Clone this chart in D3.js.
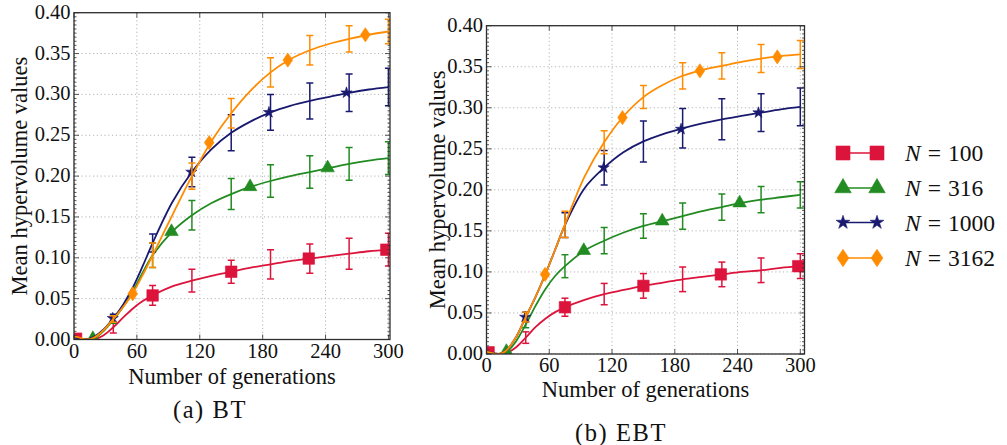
<!DOCTYPE html>
<html>
<head>
<meta charset="utf-8">
<script src="https://cdn.jsdelivr.net/npm/d3@7"></script>
<style>
  body { margin: 0; background: #fff; }
  svg { display: block; }
  svg text { font-family: "Liberation Serif", "DejaVu Serif", "Times New Roman", serif; fill: #111; }
</style>
</head>
<body>
<svg id="chart" width="1007" height="445"></svg>
<script>
// Generation counts at which the mean hypervolume curves are sampled
const gens = [0, 6, 12, 18.75, 28, 37.5, 47, 56.25, 65.6, 75, 93.75, 112.5, 131.25, 150, 168.75, 187.5, 206.25, 225, 243.75, 262.5, 281.25, 300];
// Generations carrying an error bar
const errGens = [37.5, 75, 112.5, 150, 187.5, 225, 262.5, 300];

const populationLabels = ["100", "316", "1000", "3162"];
const yTicks = [0, 0.05, 0.10, 0.15, 0.20, 0.25, 0.30, 0.35, 0.40];
const xTicks = [0, 60, 120, 180, 240, 300];

// ---- BT ----
const btN100  = [0.002, 0.001, 0.000, 0.000, 0.005, 0.015, 0.027, 0.038, 0.047, 0.054, 0.065, 0.072, 0.078, 0.083, 0.088, 0.092, 0.096, 0.099, 0.102, 0.105, 0.108, 0.110];
const btN316  = [0.003, 0.001, 0.000, 0.001, 0.010, 0.024, 0.040, 0.059, 0.082, 0.103, 0.132, 0.152, 0.167, 0.178, 0.187, 0.194, 0.200, 0.205, 0.210, 0.215, 0.219, 0.222];
const btN1000 = [0.003, 0.001, 0.000, 0.003, 0.012, 0.026, 0.043, 0.064, 0.090, 0.118, 0.168, 0.205, 0.233, 0.253, 0.267, 0.278, 0.286, 0.292, 0.297, 0.302, 0.306, 0.309];
const btN3162 = [0.004, 0.002, 0.000, 0.002, 0.011, 0.025, 0.040, 0.057, 0.079, 0.103, 0.152, 0.200, 0.243, 0.277, 0.305, 0.327, 0.343, 0.354, 0.362, 0.368, 0.373, 0.377];

const btErr100  = [0.007, 0.012, 0.014, 0.014, 0.018, 0.018, 0.019, 0.020];
const btErr316  = [0.004, 0.015, 0.018, 0.019, 0.020, 0.020, 0.020, 0.020];
const btErr1000 = [0.005, 0.011, 0.018, 0.022, 0.022, 0.022, 0.023, 0.023];
const btErr3162 = [0.004, 0.015, 0.016, 0.018, 0.018, 0.018, 0.016, 0.015];

const btMarkX100  = [2, 75, 150, 224, 298];
const btMarkY100  = [0.001, 0.054, 0.083, 0.099, 0.110];
const btMarkX316  = [18, 93, 168, 242];
const btMarkY316  = [0.001, 0.132, 0.187, 0.210];
const btMarkX1000 = [37, 112, 186, 260];
const btMarkY1000 = [0.026, 0.205, 0.278, 0.302];
const btMarkX3162 = [56, 129, 204, 278];
const btMarkY3162 = [0.056, 0.241, 0.342, 0.373];

// ---- EBT ----
const ebtN100  = [0.002, 0.001, 0.000, 0.001, 0.008, 0.020, 0.033, 0.043, 0.051, 0.057, 0.066, 0.073, 0.078, 0.083, 0.087, 0.091, 0.094, 0.097, 0.100, 0.102, 0.105, 0.107];
const ebtN316  = [0.002, 0.001, 0.000, 0.002, 0.015, 0.036, 0.059, 0.079, 0.095, 0.107, 0.126, 0.138, 0.148, 0.156, 0.162, 0.168, 0.174, 0.179, 0.184, 0.188, 0.191, 0.194];
const ebtN1000 = [0.003, 0.001, 0.000, 0.004, 0.020, 0.045, 0.070, 0.097, 0.127, 0.157, 0.202, 0.227, 0.246, 0.259, 0.268, 0.275, 0.281, 0.286, 0.290, 0.294, 0.298, 0.301];
const ebtN3162 = [0.003, 0.001, 0.000, 0.004, 0.020, 0.045, 0.070, 0.097, 0.127, 0.158, 0.216, 0.258, 0.290, 0.313, 0.328, 0.339, 0.346, 0.351, 0.356, 0.360, 0.363, 0.365];

const ebtErr100  = [0.007, 0.011, 0.013, 0.015, 0.015, 0.015, 0.015, 0.015];
const ebtErr316  = [0.004, 0.014, 0.016, 0.015, 0.016, 0.016, 0.016, 0.016];
const ebtErr1000 = [0.006, 0.015, 0.021, 0.025, 0.024, 0.025, 0.023, 0.023];
const ebtErr3162 = [0.006, 0.016, 0.014, 0.014, 0.016, 0.016, 0.017, 0.017];

const ebtMarkX100  = [2, 75, 150, 224, 298];
const ebtMarkY100  = [0.002, 0.057, 0.083, 0.097, 0.107];
const ebtMarkX316  = [19, 93, 168, 242];
const ebtMarkY316  = [0.003, 0.126, 0.162, 0.184];
const ebtMarkX1000 = [37, 112, 186, 260];
const ebtMarkY1000 = [0.045, 0.227, 0.274, 0.294];
const ebtMarkX3162 = [56, 130, 204, 278];
const ebtMarkY3162 = [0.097, 0.288, 0.345, 0.362];

// ---- styling ----
const colors = ["#dc143c", "#228b22", "#191970", "#ff8c00"];
const markerKinds = ["square", "triangle", "star", "diamond"];

const svg = d3.select("#chart");

function markerPath(kind, s) {
  // s: nominal marker width in px
  if (kind === "square") return d3.symbol(d3.symbolSquare, s * s)();
  if (kind === "triangle") return d3.symbol(d3.symbolTriangle, s * s * 0.6)();
  if (kind === "star") return d3.symbol(d3.symbolStar, s * s * 0.3)();
  // thin diamond
  const w = s * 0.42, h = s * 0.62;
  return `M0,${-h}L${w},0L0,${h}L${-w},0Z`;
}

function drawPanel(cfg, id) {
  const x = d3.scaleLinear().domain([0, cfg.xMax]).range([cfg.left, cfg.right]);
  const y = d3.scaleLinear().domain([0, 0.4]).range([cfg.bottom, cfg.top]);
  const g = svg.append("g");

  g.append("clipPath").attr("id", "clip" + id)
    .append("rect").attr("x", cfg.left).attr("y", cfg.top)
    .attr("width", cfg.right - cfg.left).attr("height", cfg.bottom - cfg.top);

  // grid
  const grid = g.append("g").attr("stroke", "#b4b4b4").attr("stroke-width", 1).attr("stroke-dasharray", "1.2,2.6");
  yTicks.forEach(t => grid.append("line").attr("x1", cfg.left).attr("x2", cfg.right).attr("y1", y(t)).attr("y2", y(t)));
  xTicks.forEach(t => grid.append("line").attr("y1", cfg.top).attr("y2", cfg.bottom).attr("x1", x(t)).attr("x2", x(t)));

  const plot = g.append("g").attr("clip-path", `url(#clip${id})`);
  const line = d3.line().x((d, i) => x(gens[i])).y(d => y(d)).curve(d3.curveCatmullRom.alpha(0.5));

  cfg.series.forEach((s, k) => {
    const c = colors[k];
    plot.append("path").attr("d", line(s.values)).attr("fill", "none")
      .attr("stroke", c).attr("stroke-width", 1.8);
    const eb = plot.append("g").attr("stroke", c).attr("stroke-width", 1.5);
    errGens.forEach((gx, j) => {
      const v = s.values[gens.indexOf(gx)];
      const e = s.err[j];
      const px = x(gx);
      eb.append("line").attr("x1", px).attr("x2", px).attr("y1", y(v - e)).attr("y2", y(v + e));
      eb.append("line").attr("x1", px - 3.5).attr("x2", px + 3.5).attr("y1", y(v - e)).attr("y2", y(v - e));
      eb.append("line").attr("x1", px - 3.5).attr("x2", px + 3.5).attr("y1", y(v + e)).attr("y2", y(v + e));
    });
    s.markX.forEach((mx, j) => {
      plot.append("path").attr("d", markerPath(markerKinds[k], 11.5))
        .attr("transform", `translate(${x(mx)},${y(s.markY[j])})`)
        .attr("fill", c).attr("stroke", c).attr("stroke-width", 0.6);
    });
  });

  // frame with inward ticks
  const frame = g.append("g").attr("stroke", "#2e2e2e");
  frame.append("rect").attr("x", cfg.left).attr("y", cfg.top)
    .attr("width", cfg.right - cfg.left).attr("height", cfg.bottom - cfg.top)
    .attr("fill", "none").attr("stroke-width", 1.3);
  d3.range(0, 81).map(i => i * 0.005).forEach(t => {
    const len = (Math.round(t * 1000) % 50 === 0) ? 5 : 2.5;
    frame.append("line").attr("x1", cfg.left).attr("x2", cfg.left + len).attr("y1", y(t)).attr("y2", y(t)).attr("stroke-width", 0.8);
    frame.append("line").attr("x1", cfg.right).attr("x2", cfg.right - len).attr("y1", y(t)).attr("y2", y(t)).attr("stroke-width", 0.8);
  });
  xTicks.forEach(t => {
    frame.append("line").attr("x1", x(t)).attr("x2", x(t)).attr("y1", cfg.bottom).attr("y2", cfg.bottom - 5).attr("stroke-width", 0.8);
    frame.append("line").attr("x1", x(t)).attr("x2", x(t)).attr("y1", cfg.top).attr("y2", cfg.top + 5).attr("stroke-width", 0.8);
  });

  // tick labels
  const txt = g.append("g");
  yTicks.forEach(t => txt.append("text").attr("x", cfg.left - 3.5).attr("y", y(t) + 6)
    .attr("text-anchor", "end").attr("font-size", 20.5).text(t.toFixed(2)));
  xTicks.forEach(t => txt.append("text").attr("x", x(t)).attr("y", cfg.bottom + cfg.xTickDy)
    .attr("text-anchor", "middle").attr("font-size", 20.5).text(t));

  // axis titles
  txt.append("text").attr("x", (cfg.left + cfg.right) / 2).attr("y", cfg.xTitleY)
    .attr("text-anchor", "middle").attr("font-size", 22.5).text("Number of generations");
  txt.append("text").attr("transform", `translate(${cfg.yTitleX},${(cfg.top + cfg.bottom) / 2}) rotate(-90)`)
    .attr("text-anchor", "middle").attr("font-size", 22.5).text("Mean hypervolume values");
  txt.append("text").attr("x", cfg.captionX).attr("y", cfg.captionY)
    .attr("text-anchor", "middle").attr("font-size", 24.5).attr("letter-spacing", 1.6).text(cfg.caption);
}

drawPanel({
  left: 74, right: 390, top: 12.7, bottom: 339.5, xMax: 301.5,
  xTickDy: 18, xTitleY: 384, yTitleX: 27, captionX: 210, captionY: 418, caption: "(a) BT",
  series: [
    { values: btN100,  err: btErr100,  markX: btMarkX100,  markY: btMarkY100 },
    { values: btN316,  err: btErr316,  markX: btMarkX316,  markY: btMarkY316 },
    { values: btN1000, err: btErr1000, markX: btMarkX1000, markY: btMarkY1000 },
    { values: btN3162, err: btErr3162, markX: btMarkX3162, markY: btMarkY3162 }
  ]
}, "bt");

drawPanel({
  left: 486.5, right: 804.5, top: 25.7, bottom: 354, xMax: 304,
  xTickDy: 18, xTitleY: 397, yTitleX: 445, captionX: 621, captionY: 441, caption: "(b) EBT",
  series: [
    { values: ebtN100,  err: ebtErr100,  markX: ebtMarkX100,  markY: ebtMarkY100 },
    { values: ebtN316,  err: ebtErr316,  markX: ebtMarkX316,  markY: ebtMarkY316 },
    { values: ebtN1000, err: ebtErr1000, markX: ebtMarkX1000, markY: ebtMarkY1000 },
    { values: ebtN3162, err: ebtErr3162, markX: ebtMarkX3162, markY: ebtMarkY3162 }
  ]
}, "ebt");

// legend
const legendRows = [153, 188, 222.5, 258];
const legend = svg.append("g");
populationLabels.forEach((lab, k) => {
  const ly = legendRows[k];
  const c = colors[k];
  legend.append("line").attr("x1", 843).attr("x2", 877).attr("y1", ly).attr("y2", ly)
    .attr("stroke", c).attr("stroke-width", 1.5);
  [843, 877].forEach(mx => legend.append("path").attr("d", markerPath(markerKinds[k], 14))
    .attr("transform", `translate(${mx},${ly})`).attr("fill", c).attr("stroke", c).attr("stroke-width", 0.6));
  const t = legend.append("text").attr("x", 905).attr("y", ly + 8).attr("font-size", 23.5);
  t.append("tspan").attr("font-style", "italic").text("N");
  t.append("tspan").attr("dx", 7).text("=");
  t.append("tspan").attr("dx", 7).text(lab);
});
</script>
</body>
</html>
